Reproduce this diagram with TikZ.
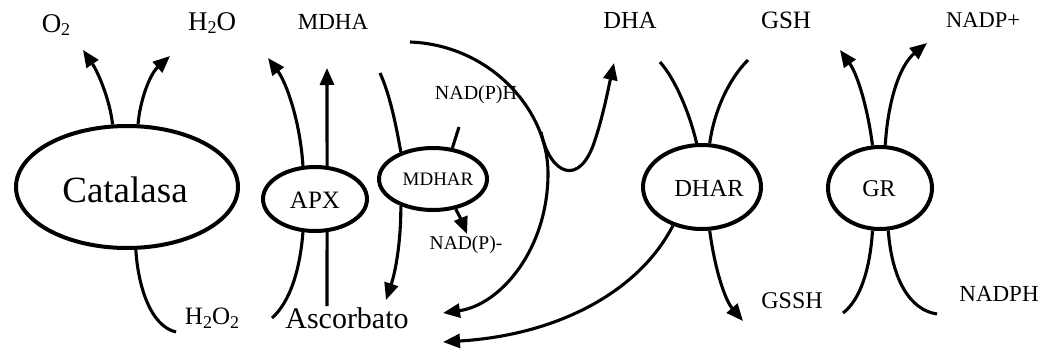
\documentclass[tikz,border=0pt]{standalone}
\usepackage{fontspec}
\setmainfont{Liberation Serif}
\usetikzlibrary{arrows.meta,shapes.geometric}
\newcommand{\fs}[1]{\fontsize{#1}{#1}\selectfont}
\newcommand{\sbs}[1]{\raisebox{-0.3ex}{\fontsize{18}{18}\selectfont #1}}
\begin{document}
\begin{tikzpicture}[x=1pt,y=-1pt,
  enz/.style={draw,ellipse,line width=4pt,inner sep=0pt},
  lbl/.style={inner sep=0pt},
  flow/.style={line width=3.1pt},
  arr/.style={flow,-{Triangle[length=17pt,width=14pt]}}]
\useasboundingbox (0,0) rectangle (1046,356);
% enzymes
\node[enz,minimum width=222pt,minimum height=122pt] (cat) at (127,187) {};
\node[lbl] at (125,190) {\fs{37}Catalasa};
\node[enz,minimum width=104pt,minimum height=64pt] (apx) at (315,199) {};
\node[lbl] at (315,200) {\fs{25}APX};
\node[enz,minimum width=108pt,minimum height=62pt] (mdhar) at (433,179) {};
\node[lbl] at (438,179) {\fs{19}MDHAR};
\node[enz,minimum width=118pt,minimum height=84pt] (dhar) at (702,187) {};
\node[lbl] at (709,188) {\fs{24.5}DHAR};
\node[enz,minimum width=104pt,minimum height=82pt] (gr) at (880,188) {};
\node[lbl] at (879,189) {\fs{24}GR};
% labels
\node[lbl] (o2) at (56,25) {\fs{27}O\sbs{2}};
\node[lbl] (h2o) at (212,23) {\fs{27}H\sbs{2}O};
\node[lbl] (h2o2) at (212,318) {\fs{25}H\sbs{2}O\sbs{2}};
\node[lbl] (mdha) at (333,22) {\fs{23}MDHA};
\node[lbl] (asc) at (347,318) {\fs{30}Ascorbato};
\node[lbl] (nadph1) at (476,95) {\fs{20}NAD(P)H};
\node[lbl] (nadpm) at (466,245) {\fs{19.5}NAD(P)-};
\node[lbl] (dha) at (630,20) {\fs{24.5}DHA};
\node[lbl] (gsh) at (786,20) {\fs{25}GSH};
\node[lbl] (gssh) at (792,301) {\fs{24}GSSH};
\node[lbl] (nadpp) at (983,20) {\fs{22.5}NADP+};
\node[lbl] (nadph) at (999,294) {\fs{23}NADPH};
% free ends
\coordinate (c1) at (83,50);
\coordinate (c2) at (170,56);
\coordinate (c3) at (176,332);
\coordinate (a1) at (268,58);
\coordinate (a2) at (327,68);
\coordinate (a3) at (272,318);
\coordinate (a4) at (327,306);
\coordinate (m1) at (380,73);
\coordinate (m2) at (386,300);
\coordinate (m3) at (459,127);
\coordinate (m4) at (467,234);
\coordinate (b0) at (410,42);
\coordinate (b1) at (548,173);
\coordinate (b2) at (443,313);
\coordinate (bs) at (541,132);
\coordinate (bm) at (595,140);
\coordinate (b3) at (614,63);
\coordinate (d1) at (660,62);
\coordinate (d2) at (748,60);
\coordinate (d3) at (443,342);
\coordinate (d4) at (743,321);
\coordinate (g1) at (840,50);
\coordinate (g2) at (927,43);
\coordinate (g3) at (843,313);
\coordinate (g4) at (937,314);
% catalasa
\draw[arr] (cat.103) .. controls (110,100) and (98,72) .. (c1);
\draw[arr] (cat.80) .. controls (140,100) and (150,74) .. (c2);
\draw[flow] (cat.-82) .. controls (138,285) and (150,326) .. (c3);
% APX
\draw[arr] (apx.110) .. controls (300,120) and (286,82) .. (a1);
\draw[arr] (apx.70) -- (a2);
\draw[flow] (apx.-110) .. controls (300,270) and (290,302) .. (a3);
\draw[flow] (apx.-70) -- (a4);
% MDHAR
\draw[flow] (m1) .. controls (390,95) and (396,125) .. (mdhar.140);
\draw[arr] (mdhar.-140) .. controls (401,240) and (396,270) .. (m2);
\draw[flow] (m3) -- (mdhar.58);
\draw[arr] (mdhar.-53) .. controls (459,215) and (463,224) .. (m4);
% big arc
\draw[arr] (b0) .. controls (490,45) and (548,110) .. (b1) .. controls (548,250) and (500,305) .. (b2);
\draw[arr] (bs) .. controls (550,175) and (580,188) .. (bm) .. controls (603,116) and (608,90) .. (b3);
% DHAR
\draw[flow] (dhar.97) .. controls (690,115) and (676,80) .. (d1);
\draw[flow] (dhar.80) .. controls (714,112) and (728,80) .. (d2);
\draw[arr] (dhar.-127) .. controls (640,290) and (560,335) .. (d3);
\draw[arr] (dhar.-80) .. controls (715,270) and (725,300) .. (d4);
% GR
\draw[arr] (gr.100) .. controls (868,110) and (858,75) .. (g1);
\draw[arr] (gr.83) .. controls (888,100) and (900,65) .. (g2);
\draw[flow] (gr.-100) .. controls (870,270) and (860,300) .. (g3);
\draw[flow] (gr.-79) .. controls (892,280) and (910,310) .. (g4);
\end{tikzpicture}
\end{document}
